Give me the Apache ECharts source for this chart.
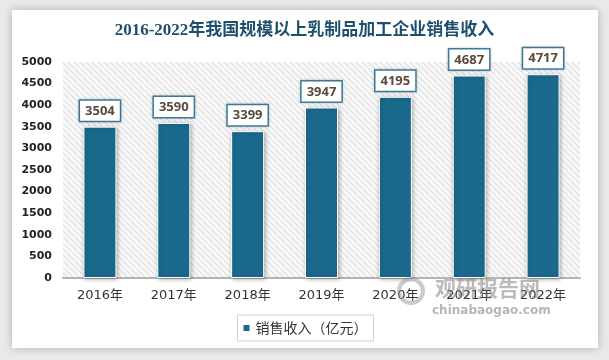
<!DOCTYPE html>
<html><head><meta charset="utf-8">
<script src="https://cdn.jsdelivr.net/npm/echarts@6/dist/echarts.min.js"></script>
<style>html,body{margin:0;padding:0;background:#e9e9e9;}#c{width:609px;height:360px;}</style>
</head><body><div id="c"></div>
<script>
const categories = ['2016年','2017年','2018年','2019年','2020年','2021年','2022年'];
const salesRevenue = [3504, 3590, 3399, 3947, 4195, 4687, 4717];
const seriesName = '销售收入（亿元）';
const titleText = '2016-2022年我国规模以上乳制品加工企业销售收入';

const pc = document.createElement('canvas');
pc.width = 6; pc.height = 6;
const pctx = pc.getContext('2d');
pctx.fillStyle = '#f7f7f7'; pctx.fillRect(0,0,6,6);
pctx.strokeStyle = '#d6d6d6'; pctx.lineWidth = 1;
pctx.beginPath();
pctx.moveTo(0,0); pctx.lineTo(6,6);
pctx.moveTo(-3,3); pctx.lineTo(3,9);
pctx.moveTo(3,-3); pctx.lineTo(9,3);
pctx.stroke();

const chart = echarts.init(document.getElementById('c'), null, {renderer:'canvas'});
chart.setOption({
  backgroundColor: '#e9e9e9',
  animation: false,
  title: {
    text: titleText, left: 'center', top: 17,
    textStyle: {fontFamily: '"Liberation Serif","Noto Sans CJK SC"', fontSize: 17, fontWeight: 'bold', color: '#1e4f6c'}
  },
  graphic: [
    {type:'rect', z:-10, shape:{x:12,y:10,width:586,height:338}, style:{fill:'#ffffff', shadowBlur:8, shadowColor:'rgba(0,0,0,0.25)'}},
    {type:'text', z:100, left:435, top:278, style:{text:'观研报告网', fill:'rgba(120,120,120,0.5)', font:'bold 21px "Noto Sans CJK SC"'}},
    {type:'text', z:100, left:432, top:305, style:{text:'chinabaogao.com', fill:'rgba(120,120,120,0.55)', font:'bold 12px "DejaVu Sans"'}},
    {type:'circle', z:100, shape:{cx:411, cy:291, r:12}, style:{fill:'none', stroke:'rgba(140,140,140,0.45)', lineWidth:4}}
  ],
  grid: {left: 63, right: 29, top: 62, bottom: 82, show: true, borderWidth: 0,
    backgroundColor: {image: pc, repeat: 'repeat'}},
  legend: {
    data: [seriesName], bottom: 19, left: 'center',
    itemWidth: 8, itemHeight: 8, icon: 'rect', itemGap: 4,
    borderColor: '#cfcfcf', borderWidth: 1, padding: [6, 6, 6, 4],
    textStyle: {fontSize: 14, color: '#333', fontFamily: '"Noto Sans CJK SC"'}
  },
  xAxis: {
    type: 'category', data: categories,
    axisLine: {lineStyle: {color: '#b5b5b5', width: 2}},
    axisTick: {show: false},
    axisLabel: {fontSize: 13, color: '#333', margin: 11, fontFamily: '"DejaVu Sans","Noto Sans CJK SC"'}
  },
  yAxis: {
    type: 'value', min: 0, max: 5000, interval: 500,
    splitLine: {show: false},
    axisLine: {show: false}, axisTick: {show: false},
    axisLabel: {fontSize: 11, fontWeight: 'bold', color: '#222', margin: 11, fontFamily: '"DejaVu Sans"',
      formatter: function (v) { return String(v); }}
  },
  series: [{
    name: seriesName, type: 'bar', data: salesRevenue, barWidth: 33,
    itemStyle: {color: '#1b6a8e', borderColor: '#ffffff', borderWidth: 1, shadowBlur: 4, shadowColor: 'rgba(0,0,0,0.3)', shadowOffsetX: 1, shadowOffsetY: 1},
    label: {
      show: true, position: 'top', distance: 6,
      backgroundColor: '#ffffff', borderColor: '#3f7ea0', borderWidth: 1.5,
      padding: [4, 5, 3, 5], fontSize: 13, fontWeight: 'bold', color: '#5a4a3c',
      fontFamily: '"Open Sans"',
      shadowBlur: 3, shadowColor: 'rgba(0,0,0,0.2)'
    }
  }]
});
</script></body></html>
